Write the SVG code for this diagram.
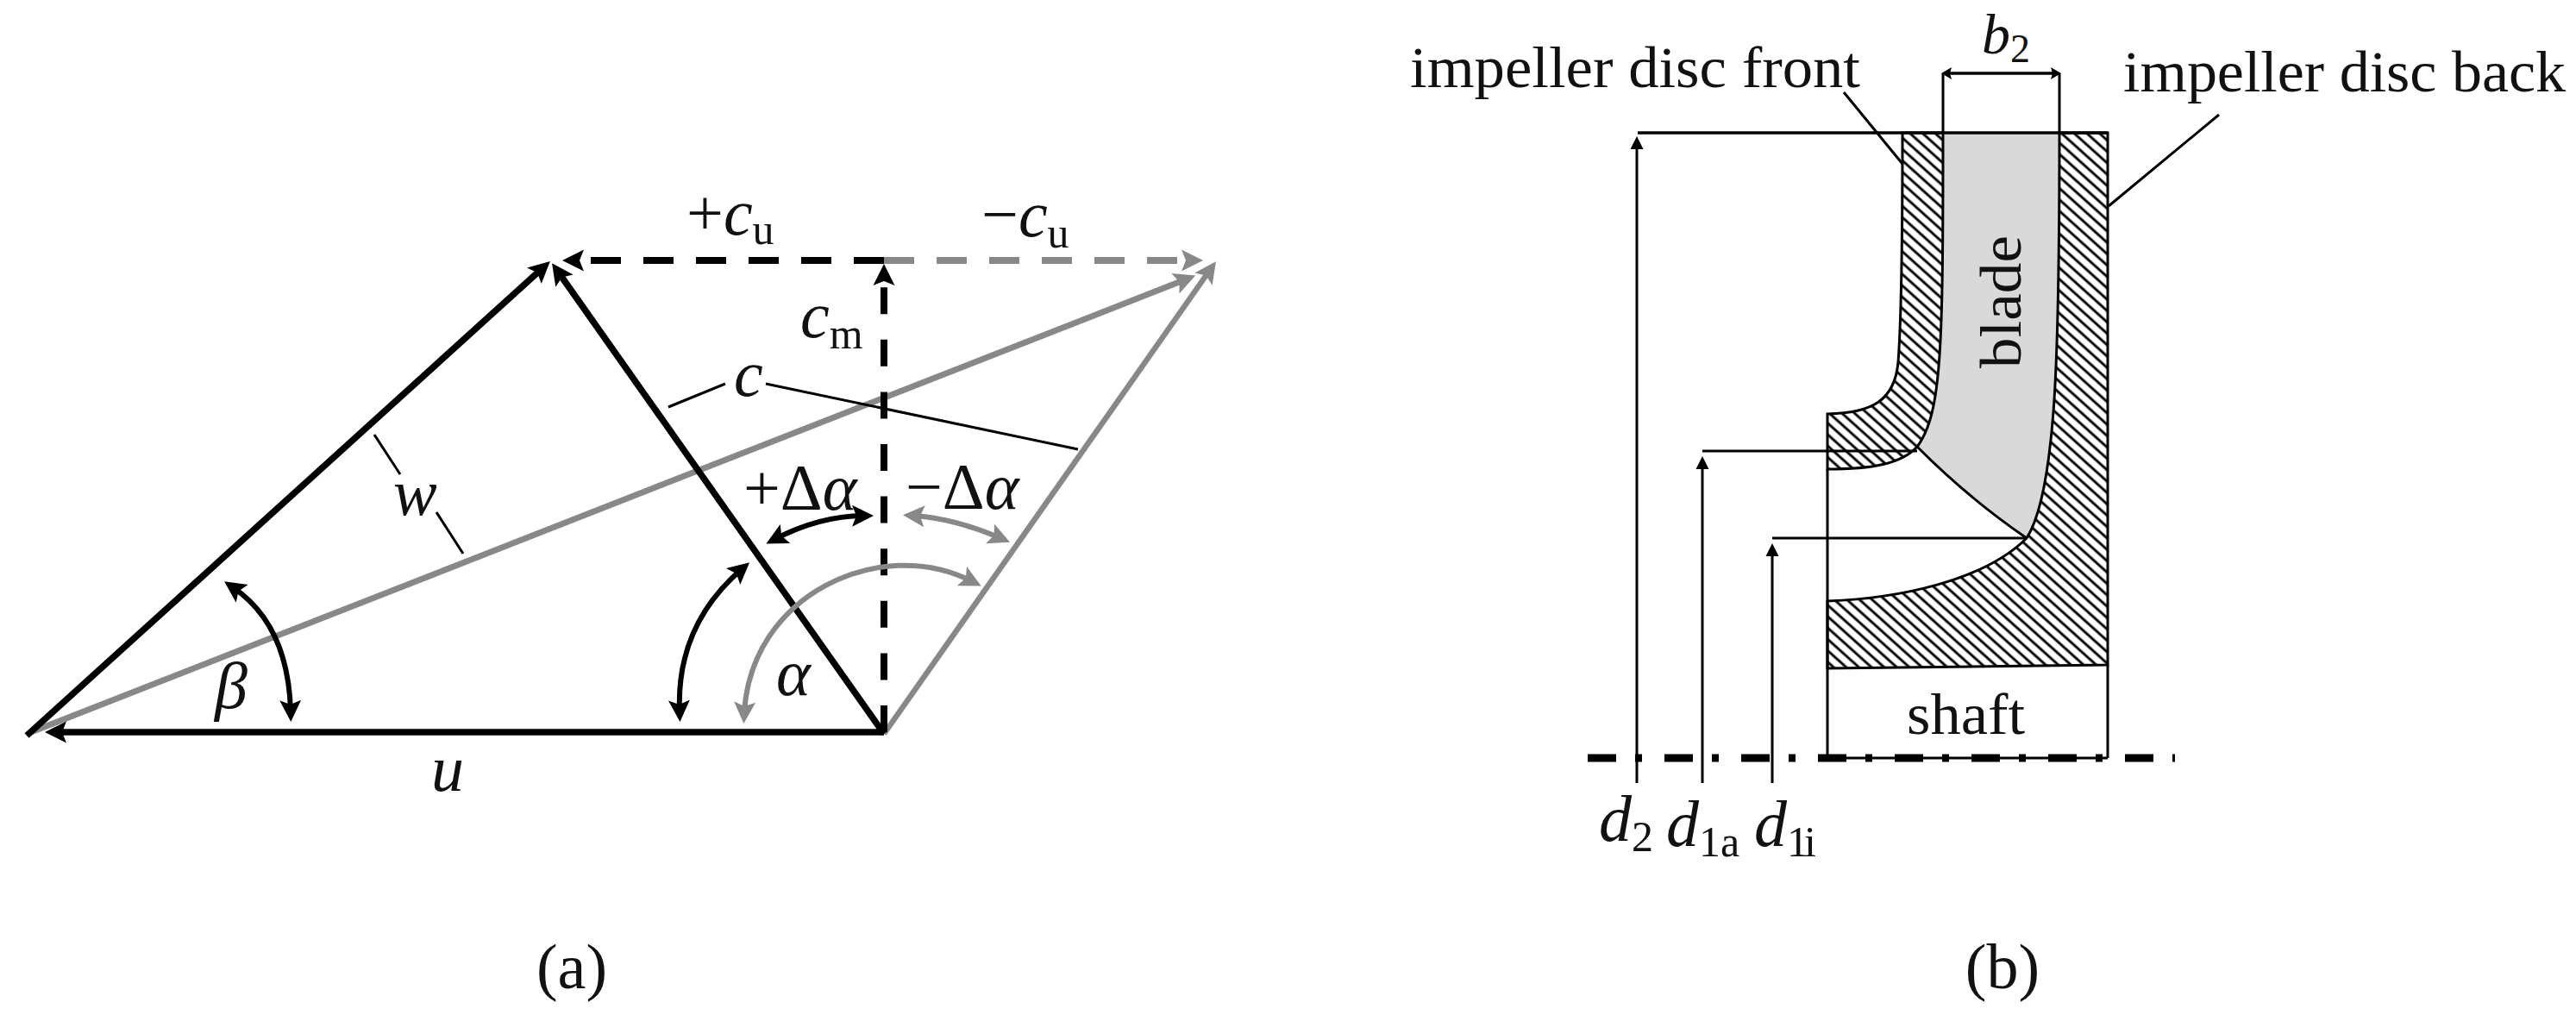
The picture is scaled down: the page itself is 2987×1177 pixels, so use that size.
<svg xmlns="http://www.w3.org/2000/svg" width="2987" height="1177" viewBox="0 0 2987 1177">
<style>
text{font-family:"Liberation Serif",serif;fill:#111}
.m{font-size:76px}.s{font-size:50px;font-style:normal}.i{font-style:italic}
.t{font-size:68px}
.b{fill:none;stroke:#000;stroke-width:7.5}
.g{fill:none;stroke:#888;stroke-width:7}
.a{marker-end:url(#hb);marker-start:url(#hb);stroke-width:6}
.ag{marker-end:url(#hg);marker-start:url(#hg);stroke-width:6}
.e{marker-end:url(#hb)}.eg{marker-end:url(#hg)}
.d{stroke-width:8;stroke-dasharray:35 26}
.n{fill:none;stroke:#000;stroke-width:3}
.dim{marker-start:url(#sm)}
</style>
<defs>
<marker id="hb" markerUnits="userSpaceOnUse" markerWidth="30" markerHeight="30" viewBox="0 -15 30 30" refX="13" refY="0" orient="auto-start-reverse"><path d="M25,0L0,-12.5L5,0L0,12.5Z" fill="#000"/></marker>
<marker id="hg" markerUnits="userSpaceOnUse" markerWidth="30" markerHeight="30" viewBox="0 -15 30 30" refX="13" refY="0" orient="auto-start-reverse"><path d="M25,0L0,-12.5L5,0L0,12.5Z" fill="#888"/></marker>
<marker id="sm" markerUnits="userSpaceOnUse" markerWidth="18" markerHeight="18" viewBox="0 -9 18 18" refX="9" refY="0" orient="auto-start-reverse"><path d="M15,0L0,-7.5L0,7.5Z" fill="#000"/></marker>
<marker id="bm" markerUnits="userSpaceOnUse" markerWidth="16" markerHeight="16" viewBox="0 -8 16 16" refX="5" refY="0" orient="auto-start-reverse"><path d="M12,0L0,-7L2,0L0,7Z" fill="#000"/></marker>
<pattern id="hatch" patternUnits="userSpaceOnUse" width="9.8" height="9.8" patternTransform="rotate(42)"><rect width="9.8" height="9.8" fill="#fff"/><rect y="3.5" width="9.8" height="2.9" fill="#000"/></pattern>
</defs>
<rect width="2987" height="1177" fill="#fff"/>

<g id="connectors">
<g id="triangle-gray">
<path class="g e eg" d="M36,849L1375,324"/>
<path class="g eg" d="M1025,851L1403,313" style="stroke-width:6.5"/>
<path class="g d eg" d="M1025,302H1383"/>
</g>
<g id="triangle-black">
<path class="b e" d="M31,853L629,311"/>
<path class="b e" d="M1025,851L647,315"/>
<path class="b e" d="M1025,849H64"/>
<path class="b d e" d="M1025,302H664"/>
<path class="b d e" style="stroke-dasharray:31 29.6" d="M1025,849V318"/>
</g>
<g id="angles">
<path class="b a" d="M270,681Q334.5,725 337,825"/>
<path class="b a" d="M860,660Q784,725.5 788,825"/>
<path class="g ag" d="M863,827C870,690 1020,620 1127,674"/>
<path class="b a" d="M899,625Q950,598.5 1001,598"/>
<path class="g ag" d="M1059,598Q1106.5,601 1160,624"/>
</g>
<g id="leaders">
<path class="n" d="M434,504L464,550M506,594L537,642M775,472L841,445M888,445L1250,521"/>
</g>
</g>

<g id="section">
<path id="blade-area" fill="#d9d9d9" d="M2253,154H2388C2388,350 2390,560 2350,624C2300,590 2255,550 2223,518C2248,490 2252,400 2253,154Z"/>
<path id="disc-back" fill="url(#hatch)" stroke="#000" stroke-width="3" d="M2388,154H2444V771L2119,775V697C2200,694 2300,674 2350,624C2385,570 2388,400 2388,154Z"/>
<path id="disc-front" fill="url(#hatch)" stroke="#000" stroke-width="3" d="M2206,154H2253C2253,400 2252,480 2223,518C2205,538 2170,544 2119,544V480C2170,479 2197,465 2201,420C2204,380 2206,300 2206,154Z"/>
<path class="n" d="M2223,518C2255,550 2300,590 2350,624"/>
<path class="n" d="M2119,544V879M2444,771V879"/>
<path class="n" style="stroke-width:3.5" d="M1899,154H2444"/>
<path class="n" d="M2253,85V154M2388,85V154"/>
<path class="n" style="stroke-width:3.5" d="M2258,85H2383" marker-start="url(#bm)" marker-end="url(#bm)"/>
<path class="n" d="M2138,107L2206,190M2573,133L2445,239"/>
<path class="n dim" d="M1898,164V908"/>
<path class="n" d="M1974,523H2223"/>
<path class="n dim" d="M1974,535V908"/>
<path class="n" d="M2055,624H2350"/>
<path class="n dim" d="M2055,636V908"/>
<path class="n" d="M2119,879H2444"/>
<path fill="none" stroke="#000" stroke-width="9" stroke-dasharray="33 22 8 26" d="M1841,879H2522"/>
</g>

<g id="labels">
<text class="m" x="796" y="272">+<tspan class="i">c</tspan><tspan class="s" dy="11">u</tspan></text>
<text class="m" x="1138" y="274">−<tspan class="i">c</tspan><tspan class="s" dy="13">u</tspan></text>
<text class="m i" x="928" y="391">c<tspan class="s" dy="13">m</tspan></text>
<text class="m i" x="851" y="459">c</text>
<text class="m" x="862" y="591">+Δ<tspan class="i">α</tspan></text>
<text class="m" x="1050" y="590">−Δ<tspan class="i">α</tspan></text>
<text class="m i" x="900" y="806">α</text>
<text class="m i" x="249" y="821">β</text>
<text class="m i" x="456" y="597">w</text>
<text class="m i" x="500" y="917">u</text>
<text class="t" x="663" y="1146" text-anchor="middle" style="font-size:74px">(a)</text>
<text class="t" x="2322" y="1146" text-anchor="middle" style="font-size:74px">(b)</text>
<text class="t" x="1635" y="101" textLength="522" lengthAdjust="spacingAndGlyphs">impeller disc front</text>
<text class="t" x="2462" y="106" textLength="513" lengthAdjust="spacingAndGlyphs">impeller disc back</text>
<text class="i" x="2298" y="62" style="font-size:66px">b<tspan class="s" style="font-size:46px" dy="10">2</tspan></text>
<text class="t" transform="translate(2343,427) rotate(-90)" textLength="154" lengthAdjust="spacingAndGlyphs">blade</text>
<text class="t" x="2211" y="851" textLength="137" lengthAdjust="spacingAndGlyphs">shaft</text>
<text class="m i" x="1854" y="975">d<tspan class="s" dy="12">2</tspan></text>
<text class="m i" x="1932" y="981">d<tspan class="s" dy="12">1a</tspan></text>
<text class="m i" x="2034" y="981">d<tspan class="s" dy="12" textLength="34">1i</tspan></text>
</g>
</svg>
